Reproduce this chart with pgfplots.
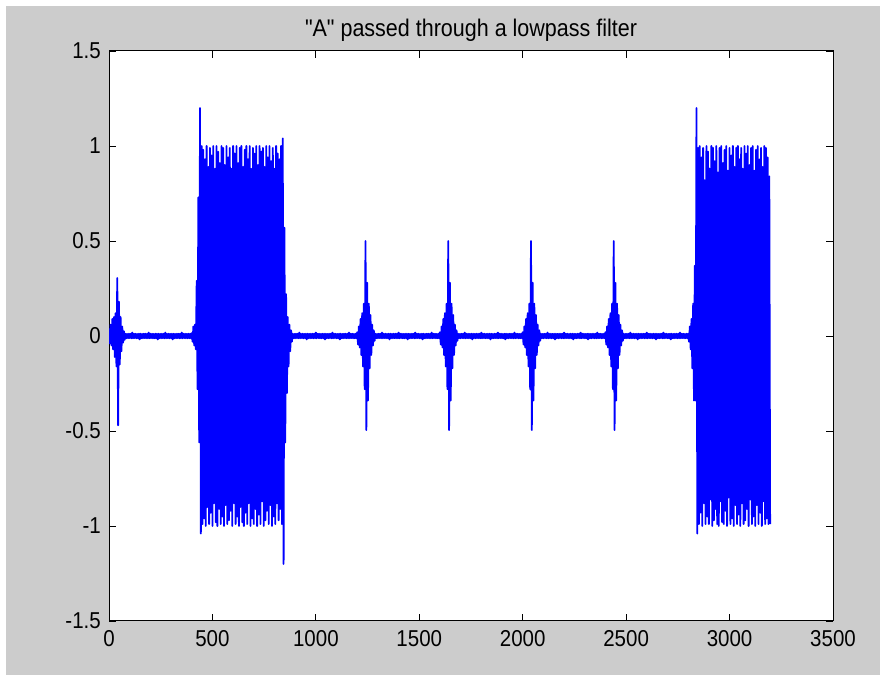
\documentclass[border=0pt]{standalone}
\usepackage{fontspec}
\setmainfont{Liberation Sans}[Ligatures=TeXOff]
\usepackage{pgfplots}
\pgfplotsset{compat=1.18}
\definecolor{figgray}{RGB}{204,204,204}
\definecolor{mblue}{RGB}{0,0,255}
\begin{document}
\begin{tikzpicture}
\useasboundingbox (0bp,0bp) rectangle (880bp,675bp);
\fill[white] (0bp,0bp) rectangle (880bp,675bp);
\fill[figgray] (6bp,0bp) rectangle (880bp,669bp);
\begin{axis}[
  at={(109bp,54bp)}, anchor=south west,
  scale only axis, width=724bp, height=570bp,
  xmin=0, xmax=3500, ymin=-1.5, ymax=1.5,
  axis background/.style={fill=white},
  axis line style={black, line width=1bp},
  xtick={0,500,1000,1500,2000,2500,3000,3500},
  xticklabels={0,500,1000,1500,2000,2500,3000,3500},
  ytick={-1.5,-1,-0.5,0,0.5,1,1.5},
  yticklabels={-1.5,-1,-0.5,0,0.5,1,1.5},
  tick align=inside, major tick length=7bp,
  tick style={black, line width=0.8bp},
  xtick pos=both, ytick pos=both,
  tick label style={font=\fontsize{20.5bp}{24bp}\selectfont, yscale=1.12},
  xticklabel style={inner sep=0pt, anchor=north, yshift=-8bp},
  yticklabel style={inner sep=0pt, anchor=east, xshift=-8bp},
  title={"A" passed through a lowpass filter},
  title style={font=\fontsize{21.5bp}{24bp}\selectfont, yscale=1.12, at={(0.5,1)}, anchor=south, inner sep=0pt, yshift=3bp},
  clip=true,
]
\addplot[mblue, line width=1.8bp, line join=round] coordinates {
(0,0.04)(4,-0.04)(8,0.06)(12,-0.05)(16,0.09)(20,-0.07)(24,0.10)(28,-0.11)(32,0.12)(36,-0.16)(40,0.305)(44,-0.47)(48,0.18)(52,-0.15)(56,0.10)(60,-0.08)(64,0.05)(68,-0.035)(72,0.025)(76,-0.02)
(80,0.012)(84,-0.012)(88,0.011)(92,-0.012)(96,0.012)(100,-0.011)(104,0.012)(108,-0.012)(112,0.018)(116,-0.012)
(120,0.012)(124,-0.011)(128,0.012)(132,-0.012)(136,0.011)(140,-0.012)(144,0.012)(148,-0.018)(152,0.012)(156,-0.012)
(160,0.011)(164,-0.012)(168,0.012)(172,-0.011)(176,0.012)(180,-0.012)(184,0.012)(188,-0.012)(192,0.018)(196,-0.012)
(200,0.012)(204,-0.011)(208,0.012)(212,-0.012)(216,0.011)(220,-0.012)(224,0.012)(228,-0.012)(232,0.012)(236,-0.018)
(240,0.012)(244,-0.012)(248,0.011)(252,-0.012)(256,0.012)(260,-0.011)(264,0.012)(268,-0.012)(272,0.018)(276,-0.012)
(280,0.012)(284,-0.011)(288,0.012)(292,-0.012)(296,0.011)(300,-0.012)(304,0.012)(308,-0.018)(312,0.012)(316,-0.012)
(320,0.011)(324,-0.012)(328,0.012)(332,-0.011)(336,0.012)(340,-0.012)(344,0.012)(348,-0.012)(352,0.018)(356,-0.012)
(360,0.012)(364,-0.011)(368,0.012)(372,-0.012)(376,0.011)(380,-0.012)(384,0.012)(388,-0.012)
(392,0.012)(396,-0.012)(400,0.015)
(404,-0.03)(408,0.05)(412,-0.05)(416,0.06)(420,-0.07)(424,0.29)(428,-0.28)(432,0.73)(436,-0.56)(440,1.20)(444,-1.04)
(448,1.00)(452,-0.99)(456,0.98)(460,-0.96)(464,0.93)(468,-1.00)(472,1.00)(476,-0.90)(480,0.89)(484,-0.99)(488,0.99)(492,-0.93)(496,0.95)(500,-1.00)(504,1.00)(508,-0.88)(512,0.88)(516,-0.98)(520,1.00)(524,-1.00)(528,0.97)(532,-0.91)(536,0.91)(540,-0.99)(544,1.00)(548,-0.95)(552,0.99)(556,-1.00)(560,0.90)(564,-0.89)(568,1.00)(572,-0.99)(576,0.94)(580,-0.97)(584,0.99)(588,-0.92)(592,0.88)(596,-1.00)(600,1.00)(604,-0.88)(608,0.96)(612,-0.99)(616,1.00)(620,-0.95)(624,0.91)(628,-1.00)(632,0.99)(636,-0.90)(640,1.00)(644,-0.98)(648,0.89)(652,-1.00)(656,0.98)(660,-0.93)(664,1.00)(668,-0.99)(672,0.93)(676,-0.88)(680,1.00)(684,-1.00)(688,0.88)(692,-0.96)(696,0.99)(700,-0.99)(704,0.96)(708,-0.91)(712,1.00)(716,-1.00)(720,0.90)(724,-0.94)(728,1.00)(732,-0.99)(736,0.97)(740,-0.87)(744,0.99)(748,-1.00)(752,0.89)(756,-0.97)(760,1.00)(764,-0.92)(768,0.94)(772,-0.99)(776,1.00)(780,-0.89)(784,0.92)(788,-1.00)(792,0.99)(796,-0.95)(800,0.88)(804,-0.99)(808,1.00)(812,-0.88)(816,0.96)(820,-0.97)(824,0.93)(828,-0.91)(832,1.00)(836,-0.99)
(840,1.04)(844,-1.20)(848,0.57)(852,-0.56)(856,0.22)(860,-0.30)(864,0.10)(868,-0.16)(872,0.06)(876,-0.08)(880,0.03)(884,-0.03)
(888,0.012)(892,-0.012)(896,0.011)(900,-0.012)(904,0.012)(908,-0.011)(912,0.012)(916,-0.012)(920,0.018)(924,-0.012)
(928,0.012)(932,-0.011)(936,0.012)(940,-0.012)(944,0.011)(948,-0.012)(952,0.012)(956,-0.018)(960,0.012)(964,-0.012)
(968,0.011)(972,-0.012)(976,0.012)(980,-0.011)(984,0.012)(988,-0.012)(992,0.012)(996,-0.012)(1000,0.018)(1004,-0.012)
(1008,0.012)(1012,-0.011)(1016,0.012)(1020,-0.012)(1024,0.011)(1028,-0.012)(1032,0.012)(1036,-0.012)(1040,0.012)(1044,-0.018)
(1048,0.012)(1052,-0.012)(1056,0.011)(1060,-0.012)(1064,0.012)(1068,-0.011)(1072,0.012)(1076,-0.012)(1080,0.018)(1084,-0.012)
(1088,0.012)(1092,-0.011)(1096,0.012)(1100,-0.012)(1104,0.011)(1108,-0.012)(1112,0.012)(1116,-0.018)(1120,0.012)(1124,-0.012)
(1128,0.011)(1132,-0.012)(1136,0.012)(1140,-0.011)(1144,0.012)(1148,-0.012)(1152,0.012)(1156,-0.012)(1160,0.018)(1164,-0.012)
(1168,0.012)(1172,-0.011)(1176,0.012)(1180,-0.012)(1184,0.011)(1188,-0.012)(1192,0.012)(1196,-0.012)
(1200,0.02)(1204,-0.045)(1208,0.05)(1212,-0.06)(1216,0.09)(1220,-0.10)(1224,0.12)(1228,-0.16)(1232,0.17)(1236,-0.28)(1240,0.50)(1244,-0.495)(1248,0.28)(1252,-0.34)(1256,0.17)(1260,-0.17)(1264,0.11)(1268,-0.10)(1272,0.06)(1276,-0.05)(1280,0.03)(1284,-0.025)
(1288,0.012)(1292,-0.012)(1296,0.011)(1300,-0.012)(1304,0.012)(1308,-0.011)(1312,0.012)(1316,-0.012)(1320,0.018)(1324,-0.012)
(1328,0.012)(1332,-0.011)(1336,0.012)(1340,-0.012)(1344,0.011)(1348,-0.012)(1352,0.012)(1356,-0.018)(1360,0.012)(1364,-0.012)
(1368,0.011)(1372,-0.012)(1376,0.012)(1380,-0.011)(1384,0.012)(1388,-0.012)(1392,0.012)(1396,-0.012)(1400,0.018)(1404,-0.012)
(1408,0.012)(1412,-0.011)(1416,0.012)(1420,-0.012)(1424,0.011)(1428,-0.012)(1432,0.012)(1436,-0.012)(1440,0.012)(1444,-0.018)
(1448,0.012)(1452,-0.012)(1456,0.011)(1460,-0.012)(1464,0.012)(1468,-0.011)(1472,0.012)(1476,-0.012)(1480,0.018)(1484,-0.012)
(1488,0.012)(1492,-0.011)(1496,0.012)(1500,-0.012)(1504,0.011)(1508,-0.012)(1512,0.012)(1516,-0.018)(1520,0.012)(1524,-0.012)
(1528,0.011)(1532,-0.012)(1536,0.012)(1540,-0.011)(1544,0.012)(1548,-0.012)(1552,0.012)(1556,-0.012)(1560,0.018)(1564,-0.012)
(1568,0.012)(1572,-0.011)(1576,0.012)(1580,-0.012)(1584,0.011)(1588,-0.012)(1592,0.012)(1596,-0.012)
(1600,0.02)(1604,-0.045)(1608,0.05)(1612,-0.06)(1616,0.09)(1620,-0.10)(1624,0.12)(1628,-0.16)(1632,0.17)(1636,-0.28)(1640,0.50)(1644,-0.495)(1648,0.28)(1652,-0.34)(1656,0.17)(1660,-0.17)(1664,0.11)(1668,-0.10)(1672,0.06)(1676,-0.05)(1680,0.03)(1684,-0.025)
(1688,0.012)(1692,-0.012)(1696,0.011)(1700,-0.012)(1704,0.012)(1708,-0.011)(1712,0.012)(1716,-0.012)(1720,0.018)(1724,-0.012)
(1728,0.012)(1732,-0.011)(1736,0.012)(1740,-0.012)(1744,0.011)(1748,-0.012)(1752,0.012)(1756,-0.018)(1760,0.012)(1764,-0.012)
(1768,0.011)(1772,-0.012)(1776,0.012)(1780,-0.011)(1784,0.012)(1788,-0.012)(1792,0.012)(1796,-0.012)(1800,0.018)(1804,-0.012)
(1808,0.012)(1812,-0.011)(1816,0.012)(1820,-0.012)(1824,0.011)(1828,-0.012)(1832,0.012)(1836,-0.012)(1840,0.012)(1844,-0.018)
(1848,0.012)(1852,-0.012)(1856,0.011)(1860,-0.012)(1864,0.012)(1868,-0.011)(1872,0.012)(1876,-0.012)(1880,0.018)(1884,-0.012)
(1888,0.012)(1892,-0.011)(1896,0.012)(1900,-0.012)(1904,0.011)(1908,-0.012)(1912,0.012)(1916,-0.018)(1920,0.012)(1924,-0.012)
(1928,0.011)(1932,-0.012)(1936,0.012)(1940,-0.011)(1944,0.012)(1948,-0.012)(1952,0.012)(1956,-0.012)(1960,0.018)(1964,-0.012)
(1968,0.012)(1972,-0.011)(1976,0.012)(1980,-0.012)(1984,0.011)(1988,-0.012)(1992,0.012)(1996,-0.012)
(2000,0.02)(2004,-0.045)(2008,0.05)(2012,-0.06)(2016,0.09)(2020,-0.10)(2024,0.12)(2028,-0.16)(2032,0.17)(2036,-0.28)(2040,0.50)(2044,-0.495)(2048,0.28)(2052,-0.34)(2056,0.17)(2060,-0.17)(2064,0.11)(2068,-0.10)(2072,0.06)(2076,-0.05)(2080,0.03)(2084,-0.025)
(2088,0.012)(2092,-0.012)(2096,0.011)(2100,-0.012)(2104,0.012)(2108,-0.011)(2112,0.012)(2116,-0.012)(2120,0.018)(2124,-0.012)
(2128,0.012)(2132,-0.011)(2136,0.012)(2140,-0.012)(2144,0.011)(2148,-0.012)(2152,0.012)(2156,-0.018)(2160,0.012)(2164,-0.012)
(2168,0.011)(2172,-0.012)(2176,0.012)(2180,-0.011)(2184,0.012)(2188,-0.012)(2192,0.012)(2196,-0.012)(2200,0.018)(2204,-0.012)
(2208,0.012)(2212,-0.011)(2216,0.012)(2220,-0.012)(2224,0.011)(2228,-0.012)(2232,0.012)(2236,-0.012)(2240,0.012)(2244,-0.018)
(2248,0.012)(2252,-0.012)(2256,0.011)(2260,-0.012)(2264,0.012)(2268,-0.011)(2272,0.012)(2276,-0.012)(2280,0.018)(2284,-0.012)
(2288,0.012)(2292,-0.011)(2296,0.012)(2300,-0.012)(2304,0.011)(2308,-0.012)(2312,0.012)(2316,-0.018)(2320,0.012)(2324,-0.012)
(2328,0.011)(2332,-0.012)(2336,0.012)(2340,-0.011)(2344,0.012)(2348,-0.012)(2352,0.012)(2356,-0.012)(2360,0.018)(2364,-0.012)
(2368,0.012)(2372,-0.011)(2376,0.012)(2380,-0.012)(2384,0.011)(2388,-0.012)(2392,0.012)(2396,-0.012)
(2400,0.02)(2404,-0.045)(2408,0.05)(2412,-0.06)(2416,0.09)(2420,-0.10)(2424,0.12)(2428,-0.16)(2432,0.17)(2436,-0.28)(2440,0.50)(2444,-0.495)(2448,0.28)(2452,-0.34)(2456,0.17)(2460,-0.17)(2464,0.11)(2468,-0.10)(2472,0.06)(2476,-0.05)(2480,0.03)(2484,-0.025)
(2488,0.012)(2492,-0.012)(2496,0.011)(2500,-0.012)(2504,0.012)(2508,-0.011)(2512,0.012)(2516,-0.012)(2520,0.018)(2524,-0.012)
(2528,0.012)(2532,-0.011)(2536,0.012)(2540,-0.012)(2544,0.011)(2548,-0.012)(2552,0.012)(2556,-0.018)(2560,0.012)(2564,-0.012)
(2568,0.011)(2572,-0.012)(2576,0.012)(2580,-0.011)(2584,0.012)(2588,-0.012)(2592,0.012)(2596,-0.012)(2600,0.018)(2604,-0.012)
(2608,0.012)(2612,-0.011)(2616,0.012)(2620,-0.012)(2624,0.011)(2628,-0.012)(2632,0.012)(2636,-0.012)(2640,0.012)(2644,-0.018)
(2648,0.012)(2652,-0.012)(2656,0.011)(2660,-0.012)(2664,0.012)(2668,-0.011)(2672,0.012)(2676,-0.012)(2680,0.018)(2684,-0.012)
(2688,0.012)(2692,-0.011)(2696,0.012)(2700,-0.012)(2704,0.011)(2708,-0.012)(2712,0.012)(2716,-0.018)(2720,0.012)(2724,-0.012)
(2728,0.011)(2732,-0.012)(2736,0.012)(2740,-0.011)(2744,0.012)(2748,-0.012)(2752,0.012)(2756,-0.012)(2760,0.018)(2764,-0.012)
(2768,0.012)(2772,-0.011)(2776,0.012)(2780,-0.012)(2784,0.011)(2788,-0.012)(2792,0.012)(2796,-0.012)(2800,0.012)
(2804,-0.03)(2808,0.05)(2812,-0.07)(2816,0.09)(2820,-0.17)(2824,0.17)(2828,-0.34)(2832,0.37)(2836,-0.34)(2840,1.20)(2844,-1.04)
(2848,0.99)(2852,-0.99)(2856,1.00)(2860,-0.93)(2864,0.94)(2868,-1.00)(2872,0.99)(2876,-0.88)(2880,0.82)(2884,-0.99)(2888,1.00)(2892,-0.95)(2896,0.97)(2900,-0.99)(2904,0.88)(2908,-0.86)(2912,1.00)(2916,-1.00)(2920,0.99)(2924,-0.97)(2928,0.92)(2932,-0.91)(2936,1.00)(2940,-0.99)(2944,0.86)(2948,-1.00)(2952,0.99)(2956,-0.87)(2960,1.00)(2964,-0.98)(2968,0.91)(2972,-0.99)(2976,0.98)(2980,-0.92)(2984,1.00)(2988,-1.00)(2992,0.87)(2996,-0.85)(3000,0.99)(3004,-0.99)(3008,0.95)(3012,-0.96)(3016,1.00)(3020,-1.00)(3024,0.89)(3028,-0.89)(3032,0.99)(3036,-0.99)(3040,1.00)(3044,-0.94)(3048,0.93)(3052,-1.00)(3056,0.99)(3060,-0.88)(3064,0.88)(3068,-0.99)(3072,1.00)(3076,-0.97)(3080,0.96)(3084,-0.91)(3088,1.00)(3092,-1.00)(3096,0.90)(3100,-0.86)(3104,0.99)(3108,-0.99)(3112,1.00)(3116,-0.95)(3120,0.87)(3124,-1.00)(3128,0.98)(3132,-0.89)(3136,1.00)(3140,-0.99)(3144,0.93)(3148,-0.93)(3152,0.99)(3156,-1.00)(3160,0.89)(3164,-0.87)(3168,1.00)(3172,-0.99)(3176,0.99)(3180,-0.96)(3184,0.94)(3188,-0.99)(3192,0.84)(3196,-0.99)
};
\end{axis}
\end{tikzpicture}
\end{document}
